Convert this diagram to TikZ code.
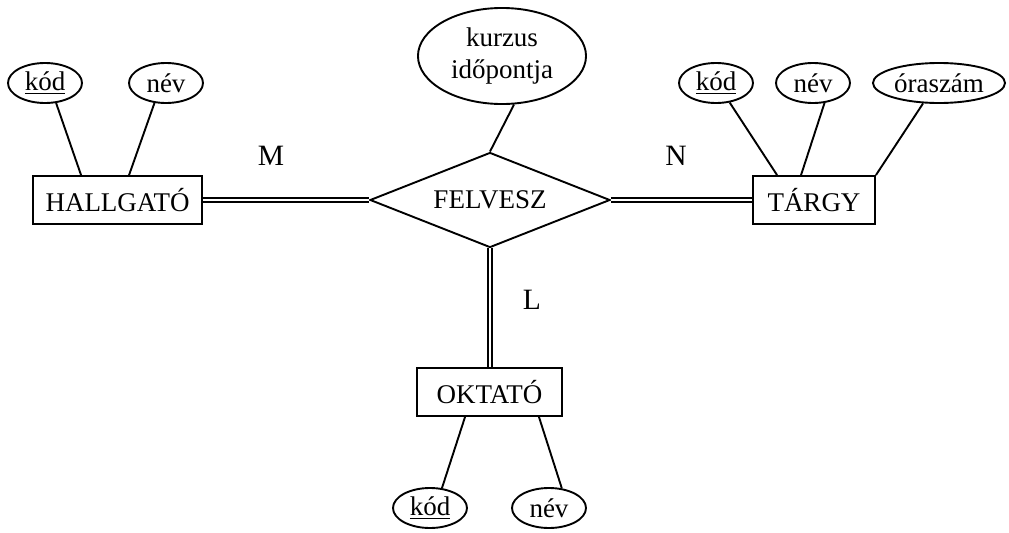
\documentclass[tikz,border=0pt]{standalone}
\usepackage{fontspec}
\setmainfont{Liberation Serif}
\usetikzlibrary{shapes.geometric}

\begin{document}
\begin{tikzpicture}[x=0.025cm, y=-0.025cm,
  every node/.style={font=\fontsize{19.2}{22.5}\selectfont},
  entity/.style={draw, rectangle, line width=1.35pt, inner sep=0pt, minimum height=1.2cm},
  attr/.style={draw, ellipse, line width=1.35pt, inner sep=0pt, minimum width=1.85cm, minimum height=1cm},
  rel/.style={draw, diamond, line width=1.35pt, inner sep=0pt, aspect=2.5, minimum width=6cm, minimum height=2.375cm},
  card/.style={font=\fontsize{21}{24}\selectfont},
  link/.style={line width=1.35pt},
  twolink/.style={double, line width=1.35pt, double distance=1.6pt}]

\useasboundingbox (0,0) rectangle (1009,533);

\node[rel] (felvesz) at (490,200) {FELVESZ};
\node[attr, align=center, minimum width=4.2cm, minimum height=2.4cm] (ido) at (502,56) {kurzus\\időpontja};

\node[entity, minimum width=4.225cm] (hallgato) at (117.5,200) {HALLGATÓ};
\node[attr] (hkod) at (45,83) {\underline{kód}};
\node[attr] (hnev) at (166,83) {név};

\node[entity, minimum width=3.05cm] (targy) at (814,200) {TÁRGY};
\node[attr] (tkod) at (716,83) {\underline{kód}};
\node[attr] (tnev) at (813,83) {név};
\node[attr, minimum width=3.3cm] (ora) at (939,83) {óraszám};

\node[entity, minimum width=3.625cm] (oktato) at (489.5,392) {OKTATÓ};
\node[attr] (okod) at (430,508) {\underline{kód}};
\node[attr] (onev) at (549,508) {név};

\node[card] (m) at (271,156) {M};
\node[card] (n) at (676,156) {N};
\node[card] (l) at (532,300) {L};

\draw[link] (hkod.-61) -- ([xshift=1.225cm]hallgato.north west);
\draw[link] (hnev.-120) -- ([xshift=2.425cm]hallgato.north west);
\draw[link] (ido.-76) -- (felvesz.north);
\draw[link] (tkod.-55) -- ([xshift=0.625cm]targy.north west);
\draw[link] (tnev.-60) -- ([xshift=1.225cm]targy.north west);
\draw[link] (ora.-128) -- (targy.north east);
\draw[link] (okod.59) -- ([xshift=1.225cm]oktato.south west);
\draw[link] (onev.57) -- ([xshift=-0.6cm]oktato.south east);

\draw[twolink] (hallgato.east) -- (felvesz.west);
\draw[twolink] (felvesz.east) -- (targy.west);
\draw[twolink] (felvesz.south) -- (felvesz.south |- oktato.north);
\end{tikzpicture}
\end{document}
